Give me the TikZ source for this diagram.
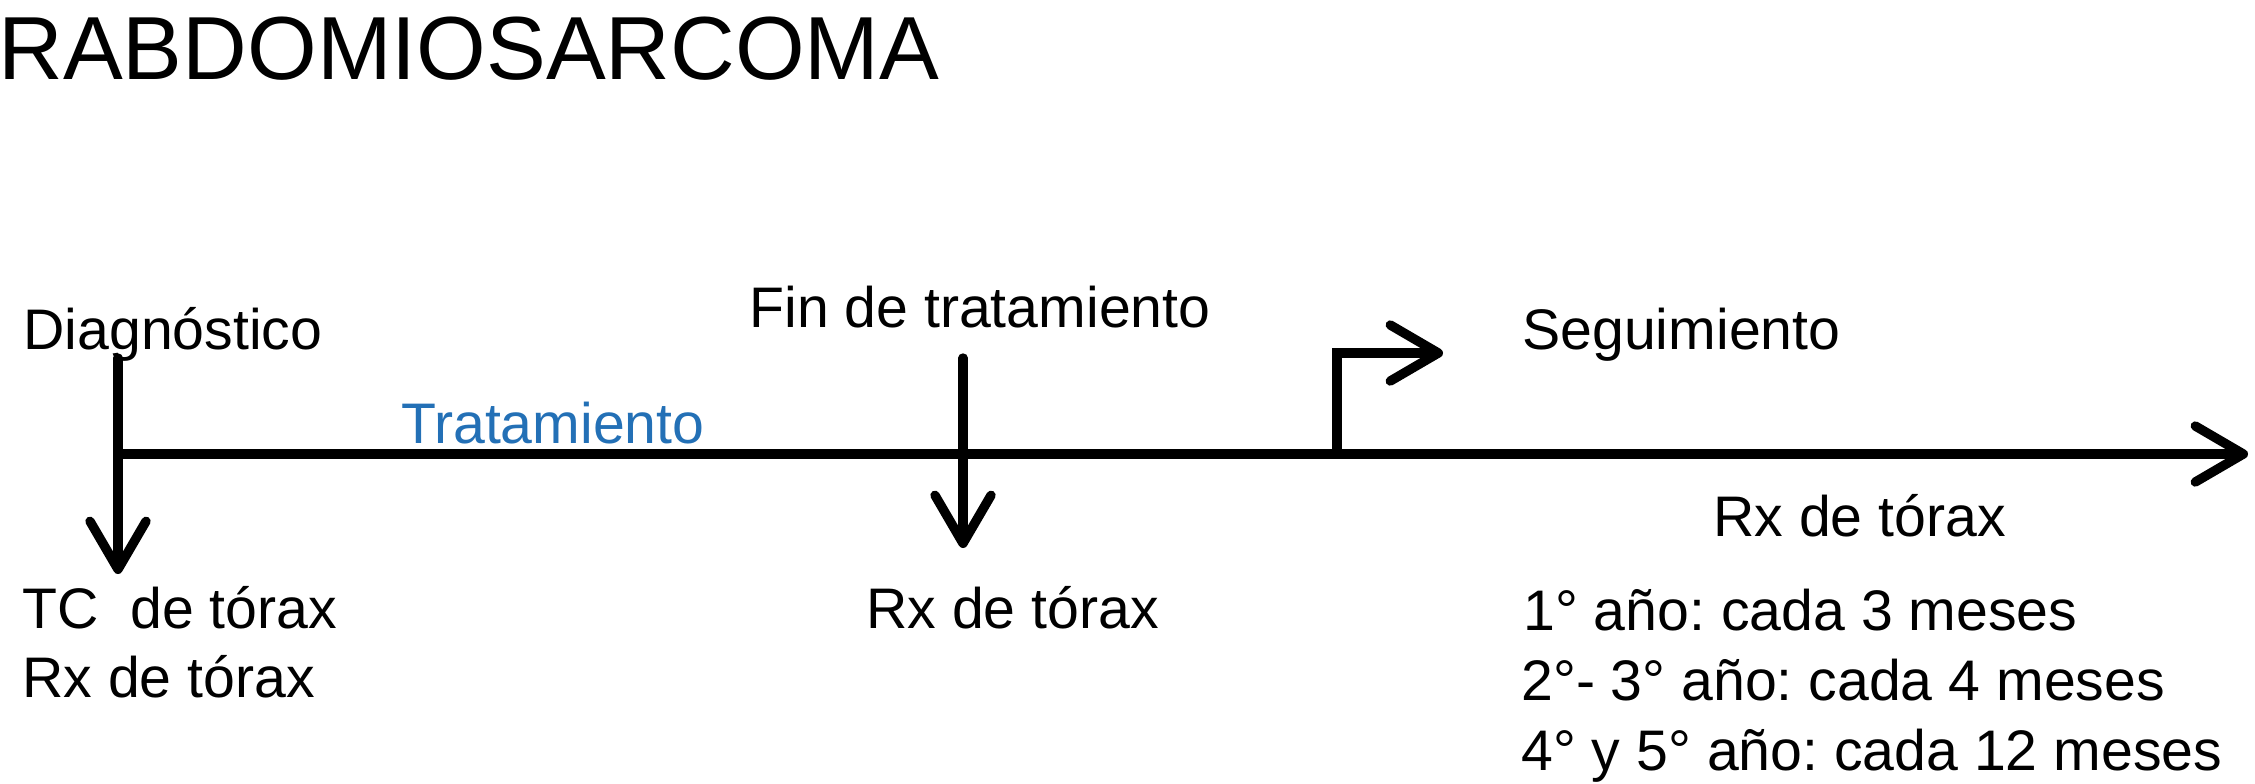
\documentclass[tikz,border=0pt]{standalone}
\usepackage{fontspec}
\setmainfont{Liberation Sans}
\usetikzlibrary{arrows.meta}
\definecolor{tratblue}{RGB}{35,112,182}
\frenchspacing
\begin{document}
\begin{tikzpicture}[x=0.5pt,y=-0.5pt,
  lbl/.style={anchor=base west,inner sep=0pt,font=\fontsize{28.6pt}{34pt}\selectfont},
  ttl/.style={anchor=base west,inner sep=0pt,font=\fontsize{44.8pt}{50pt}\selectfont},
  thick line/.style={line width=4.7pt,line cap=round,line join=miter},
  chev/.style={-{Straight Barb[length=24pt,width=28pt,round]}}]
\useasboundingbox (0,0) rectangle (2255,783);
% texts
\node[ttl] (title) at (-2,79) {RABDOMIOSARCOMA};
\node[lbl] (diag) at (23,349) {Diagnóstico};
\node[lbl,text=tratblue] (trat) at (401,443) {Tratamiento};
\node[lbl] (fin) at (749,327) {Fin de tratamiento};
\node[lbl] (seg) at (1522,349) {Seguimiento};
\node[lbl] (tc) at (22,628) {TC\ \ de tórax};
\node[lbl] (rx1) at (22,697) {Rx de tórax};
\node[lbl] (rx2) at (866,628) {Rx de tórax};
\node[lbl] (rx3) at (1713,536) {Rx de tórax};
\node[lbl] (y1) at (1523,630) {1° año: cada 3 meses};
\node[lbl] (y2) at (1521,700) {2°- 3° año: cada 4 meses};
\node[lbl] (y3) at (1521,770) {4° y 5° año: cada 12 meses};
% coordinates
\coordinate (start) at (118,454);
\coordinate (end) at (2248,454);
\coordinate (dtop) at (118,358);
\coordinate (dbot) at (118,574);
\coordinate (ftop) at (963,358);
\coordinate (fbot) at (963,548);
\coordinate (sbase) at (1337,454);
\coordinate (stip) at (1443,353);
% connectors
\draw[thick line,chev] (start) -- (end);
\draw[thick line,chev] (dtop) -- (dbot);
\draw[thick line,chev] (ftop) -- (fbot);
\draw[thick line,chev] (sbase) |- (stip);
\end{tikzpicture}
\end{document}
